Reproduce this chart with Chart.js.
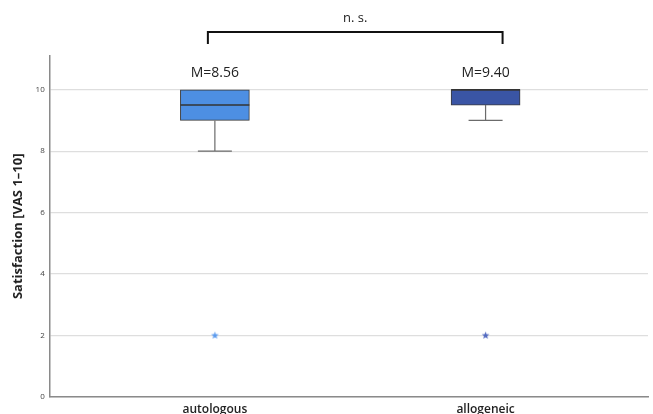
<!DOCTYPE html>
<html lang="en">
<head>
<meta charset="UTF-8" />
<title>Satisfaction boxplot</title>
<style>
  body { margin: 0; background: #fff; }
  #wrap { width: 653px; height: 414px; }
</style>
<script src="https://cdn.jsdelivr.net/npm/chart.js"></script>
</head>
<body>
<div id="wrap"><canvas id="boxChart" width="653" height="414"></canvas></div>
<script>
  // data
  const groups = ['autologous', 'allogeneic'];
  const groupX = [1, 2];
  const q1 = [9, 9.5];
  const q3 = [10, 10];
  const medians = [9.5, 10];
  const whiskerLow = [8, 9];
  const whiskerHigh = [10, 10];
  const outliers = [2, 2];
  const means = [8.56, 9.40];
  const yTicks = [0, 2, 4, 6, 8, 10];

  const boxColors = ['#4D8FE3', '#3A55A5'];
  const starColors = ['#5B9BEF', '#5068C0'];

  const font = "'Open Sans', 'DejaVu Sans', sans-serif";

  // small filled 5-point star used as point style for the outliers
  function starIcon(color) {
    const c = document.createElement('canvas');
    c.width = 9; c.height = 9;
    const g = c.getContext('2d');
    g.fillStyle = color;
    g.beginPath();
    for (let k = 0; k < 10; k++) {
      const r = k % 2 === 0 ? 4 : 1.7;
      const a = -Math.PI / 2 + k * Math.PI / 5;
      g.lineTo(4.5 + r * Math.cos(a), 4.8 + r * Math.sin(a));
    }
    g.closePath();
    g.fill();
    return c;
  }

  // whiskers, medians, means and the n.s. bracket
  const boxExtras = {
    id: 'boxExtras',
    afterDatasetsDraw(chart) {
      const { ctx, scales: { x, y }, chartArea } = chart;
      const bars = chart.getDatasetMeta(0).data;
      ctx.save();
      groupX.forEach((gx, i) => {
        const px = x.getPixelForValue(gx);
        const half = bars[i].width / 2;
        ctx.strokeStyle = '#6b6b6b';
        ctx.lineWidth = 1.2;
        ctx.beginPath();
        if (whiskerLow[i] < q1[i]) {
          ctx.moveTo(px, y.getPixelForValue(q1[i]));
          ctx.lineTo(px, y.getPixelForValue(whiskerLow[i]));
          ctx.moveTo(px - 17, y.getPixelForValue(whiskerLow[i]));
          ctx.lineTo(px + 17, y.getPixelForValue(whiskerLow[i]));
        }
        if (whiskerHigh[i] > q3[i]) {
          ctx.moveTo(px, y.getPixelForValue(q3[i]));
          ctx.lineTo(px, y.getPixelForValue(whiskerHigh[i]));
          ctx.moveTo(px - 17, y.getPixelForValue(whiskerHigh[i]));
          ctx.lineTo(px + 17, y.getPixelForValue(whiskerHigh[i]));
        }
        ctx.stroke();

        ctx.strokeStyle = '#333';
        ctx.lineWidth = 1.5;
        ctx.beginPath();
        const my = y.getPixelForValue(medians[i]);
        ctx.moveTo(px - half, my);
        ctx.lineTo(px + half, my);
        ctx.stroke();

        ctx.fillStyle = '#222';
        ctx.font = '14px ' + font;
        ctx.textAlign = 'center';
        ctx.textBaseline = 'middle';
        ctx.fillText('M=' + means[i].toFixed(2), px, chartArea.top + 17);
      });

      // bracket
      const left = x.getPixelForValue(groupX[0]) - 7;
      const right = x.getPixelForValue(groupX[1]) + 17;
      const top = chartArea.top - 24;
      ctx.strokeStyle = '#111';
      ctx.lineWidth = 2;
      ctx.beginPath();
      ctx.moveTo(left, chartArea.top - 12);
      ctx.lineTo(left, top);
      ctx.lineTo(right, top);
      ctx.lineTo(right, chartArea.top - 12);
      ctx.stroke();
      ctx.fillStyle = '#222';
      ctx.font = '13px ' + font;
      ctx.fillText('n. s.', (left + right) / 2, chartArea.top - 38);
      ctx.restore();
    }
  };

  const chart = new Chart(document.getElementById('boxChart'), {
    data: {
      datasets: [
        {
          type: 'bar',
          data: groupX.map((gx, i) => ({ x: gx, y: [q1[i], q3[i]] })),
          backgroundColor: boxColors,
          borderColor: '#3a3a3a',
          borderWidth: 1,
          borderSkipped: false,
          barThickness: 69
        },
        {
          type: 'scatter',
          data: groupX.map((gx, i) => ({ x: gx, y: outliers[i] })),
          pointStyle: starColors.map(starIcon)
        }
      ]
    },
    options: {
      responsive: false,
      animation: false,
      layout: { padding: { top: 56, left: 10, right: 0, bottom: -9 } },
      plugins: {
        legend: { display: false },
        tooltip: { enabled: false }
      },
      scales: {
        x: {
          type: 'linear',
          offset: false,
          min: 0.39,
          max: 2.6,
          afterBuildTicks: (scale) => { scale.ticks = groupX.map(v => ({ value: v })); },
          ticks: {
            callback: (v) => groups[groupX.indexOf(v)],
            color: '#222',
            font: { family: font, size: 12, weight: '600' },
            padding: 6,
            maxRotation: 0
          },
          grid: { display: false, drawTicks: false },
          border: { color: '#8a8a8a', width: 1.5 }
        },
        y: {
          min: 0,
          max: 11.1,
          afterBuildTicks: (scale) => { scale.ticks = yTicks.map(v => ({ value: v })); },
          ticks: {
            color: '#444',
            font: { family: font, size: 8 },
            padding: 5
          },
          grid: { color: '#dedede', lineWidth: 1.2, drawTicks: false },
          border: { color: '#8a8a8a', width: 1.5 },
          title: {
            display: true,
            text: 'Satisfaction [VAS 1–10]',
            color: '#222',
            font: { family: font, size: 13, weight: 'bold' },
            padding: { top: 0, bottom: 5 }
          }
        }
      }
    },
    plugins: [boxExtras]
  });
</script>
</body>
</html>
